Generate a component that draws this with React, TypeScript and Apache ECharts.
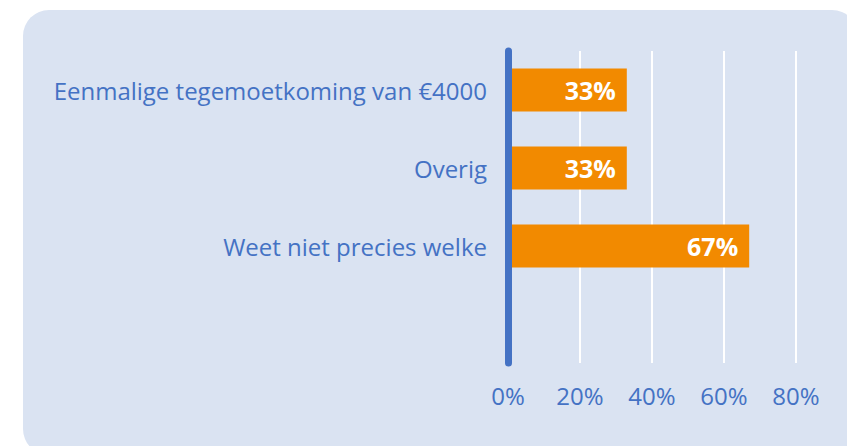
import React, { useEffect, useRef } from "react";
import * as echarts from "echarts";

const categories = [
  "Eenmalige tegemoetkoming van €4000",
  "Overig",
  "Weet niet precies welke",
  "",
];
const values = [33, 33, 67, null];
const xTicks = [0, 20, 40, 60, 80];

const BLUE = "#4472c4";
const ORANGE = "#f28a00";
const FONT = "Open Sans";

export default function App() {
  const ref = useRef<HTMLDivElement>(null);
  useEffect(() => {
    if (!ref.current) return;
    const chart = echarts.init(ref.current, null, { renderer: "svg" });
    chart.setOption({
      animation: false,
      backgroundColor: "#ffffff",
      graphic: [
        {
          type: "rect",
          z: -10,
          silent: true,
          shape: { x: 23, y: 10, width: 835, height: 445, r: 26 },
          style: { fill: "#dae3f2" },
        },
      ],
      grid: { left: 508, right: 51, top: 51, bottom: 83, containLabel: false },
      xAxis: {
        type: "value",
        min: xTicks[0],
        max: xTicks[xTicks.length - 1],
        interval: 20,
        z: 0,
        axisLine: { show: false },
        axisTick: { show: false },
        splitLine: {
          show: true,
          lineStyle: { color: "#ffffff", width: 2 },
        },
        axisLabel: {
          color: BLUE,
          fontSize: 24,
          fontFamily: FONT,
          margin: 20,
          formatter: "{value}%",
        },
      },
      yAxis: {
        type: "category",
        data: categories,
        inverse: true,
        z: 5,
        axisTick: { show: false },
        axisLine: {
          show: true,
          lineStyle: { color: BLUE, width: 7, cap: "round" },
        },
        axisLabel: {
          color: BLUE,
          fontSize: 24,
          fontFamily: FONT,
          margin: 21,
          padding: [8, 0, 0, 0],
        },
      },
      series: [
        {
          type: "bar",
          data: values,
          barWidth: 43,
          itemStyle: { color: ORANGE },
          z: 2,
          label: {
            show: true,
            position: "insideRight",
            distance: 11,
            color: "#ffffff",
            fontSize: 25,
            fontWeight: "bold",
            fontFamily: FONT,
            formatter: (p: any) => (p.value == null ? "" : p.value + "%"),
          },
        },
      ],
    });
    return () => chart.dispose();
  }, []);
  return (
    <div
      ref={ref}
      style={{ position: "fixed", left: 0, top: 0, width: 847, height: 446 }}
    />
  );
}
